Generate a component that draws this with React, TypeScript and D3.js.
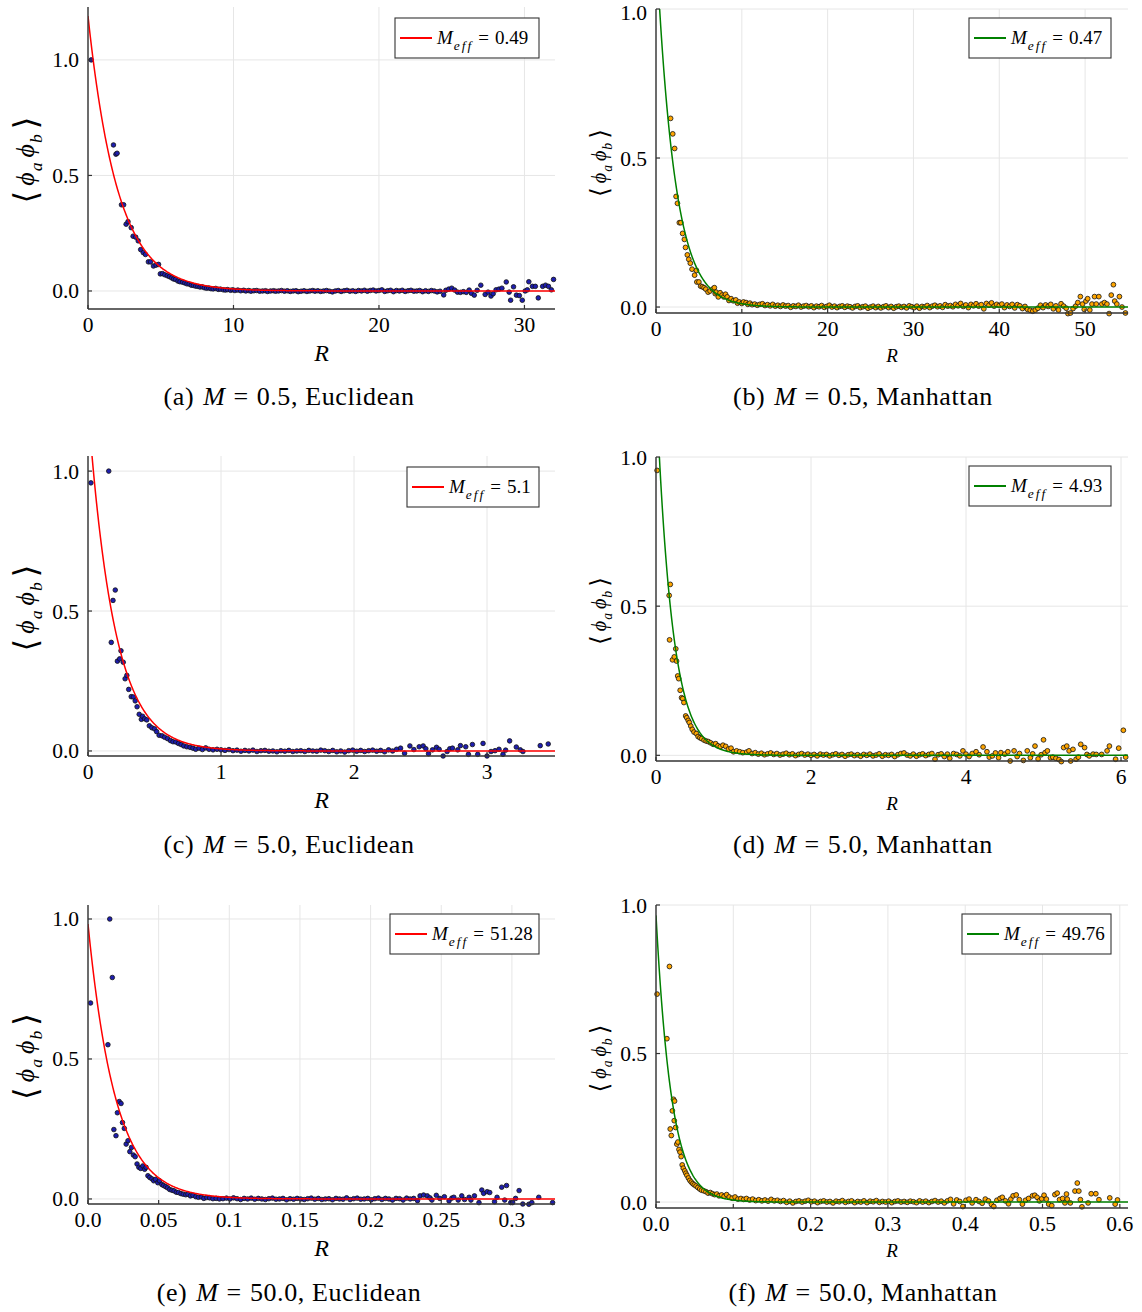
import React from "react";
import * as d3 from "d3";

type Pt = [number, number];

// ---- measured correlators <phi_a phi_b>(R) ----
const euclidM05: Pt[] = [
  [0.22, 1.0], [1.75, 0.632], [1.92, 0.592], [2.0, 0.596], [2.3, 0.373], [2.45, 0.373], [2.62, 0.289], [2.75, 0.3],
  [2.97, 0.274], [3.1, 0.237], [3.28, 0.233], [3.45, 0.217], [3.62, 0.179], [3.8, 0.166], [3.95, 0.158], [4.15, 0.126],
  [4.3, 0.126], [4.5, 0.108], [4.68, 0.112], [4.85, 0.115], [4.97, 0.074], [5.12, 0.075], [5.28, 0.07], [5.45, 0.066],
  [5.6, 0.062], [5.75, 0.057], [5.88, 0.052], [6.02, 0.05], [6.18, 0.043], [6.32, 0.04], [6.5, 0.038], [6.65, 0.035],
  [6.8, 0.031], [6.95, 0.03], [7.1, 0.025], [7.25, 0.024], [7.4, 0.021], [7.55, 0.02], [7.7, 0.017], [7.85, 0.018],
  [8.0, 0.014], [8.15, 0.012], [8.3, 0.013], [8.45, 0.01], [8.6, 0.009], [8.78, 0.011], [8.95, 0.007], [9.1, 0.008],
  [9.3, 0.005], [9.45, 0.004], [9.6, 0.006], [9.8, 0.003], [9.95, 0.005], [10.1, 0.002], [10.3, 0.004], [10.5, 0.001],
  [10.7, 0.003], [10.85, 0.0], [11.05, 0.002], [11.2, -0.001], [11.4, 0.001], [11.6, 0.002], [11.8, -0.001], [12.0, 0.0],
  [12.2, 0.001], [12.35, -0.002], [12.55, 0.0], [12.75, 0.001], [12.9, -0.001], [13.1, 0.0], [13.3, 0.002], [13.5, -0.001],
  [13.7, 0.001], [13.9, -0.002], [14.1, 0.0], [14.3, 0.001], [14.45, -0.003], [14.65, -0.001], [14.85, 0.001], [15.05, -0.002],
  [15.25, 0.0], [15.45, 0.002], [15.6, -0.001], [15.8, 0.001], [16.0, -0.002], [16.2, 0.0], [16.4, 0.002], [16.6, -0.001],
  [16.8, -0.004], [17.0, 0.0], [17.2, 0.002], [17.4, -0.002], [17.6, 0.001], [17.8, 0.003], [18.0, -0.001], [18.2, 0.001],
  [18.4, -0.002], [18.6, 0.002], [18.8, 0.0], [19.0, 0.003], [19.2, -0.001], [19.4, 0.002], [19.6, 0.004], [19.8, 0.0],
  [20.0, 0.002], [20.2, 0.005], [20.4, -0.002], [20.6, 0.001], [20.8, 0.003], [21.0, -0.003], [21.2, 0.002], [21.4, 0.0],
  [21.6, 0.003], [21.8, -0.002], [22.0, 0.001], [22.2, 0.003], [22.4, -0.001], [22.6, 0.0], [22.8, 0.002], [23.0, -0.003],
  [23.2, 0.001], [23.4, -0.002], [23.6, 0.002], [23.8, 0.0], [24.0, -0.004], [24.2, -0.001], [24.45, -0.017], [24.6, 0.003],
  [24.8, 0.008], [25.0, 0.012], [25.2, 0.004], [25.4, -0.005], [25.6, -0.006], [25.8, -0.003], [26.0, -0.006], [26.2, 0.004],
  [26.35, -0.01], [26.55, -0.018], [26.75, 0.003], [27.0, 0.025], [27.3, -0.015], [27.5, -0.005], [27.7, -0.022], [27.85, -0.012],
  [28.05, 0.005], [28.25, 0.008], [28.45, 0.012], [28.75, 0.039], [28.95, -0.005], [29.05, -0.04], [29.25, 0.018], [29.45, -0.018],
  [29.65, -0.02], [29.85, -0.04], [30.05, 0.0], [30.2, 0.005], [30.3, 0.04], [30.55, 0.02], [30.75, 0.02], [30.95, -0.03],
  [31.25, 0.02], [31.45, 0.025], [31.65, 0.02], [31.85, 0.005], [32.0, 0.05],
];

const manhM05: Pt[] = [
  [1.7, 0.633], [1.95, 0.581], [2.17, 0.532], [2.34, 0.371], [2.5, 0.348], [2.72, 0.283], [2.89, 0.283], [3.1, 0.247],
  [3.31, 0.227], [3.44, 0.2], [3.65, 0.175], [3.82, 0.16], [4.0, 0.147], [4.2, 0.127], [4.5, 0.107], [4.71, 0.123],
  [4.76, 0.084], [5.0, 0.084], [5.2, 0.07], [5.4, 0.068], [5.6, 0.065], [5.8, 0.06], [6.07, 0.05], [6.3, 0.054],
  [6.6, 0.06], [6.8, 0.065], [6.9, 0.045], [7.0, 0.05], [7.26, 0.034], [7.47, 0.048], [7.7, 0.04], [7.9, 0.034],
  [8.1, 0.043], [8.3, 0.034], [8.5, 0.022], [8.75, 0.028], [9.0, 0.021], [9.3, 0.024], [9.5, 0.013], [9.7, 0.017],
  [10.0, 0.012], [10.2, 0.017], [10.5, 0.015], [10.7, 0.009], [10.95, 0.013], [11.2, 0.008], [11.5, 0.01], [11.8, 0.006],
  [12.1, 0.009], [12.4, 0.011], [12.7, 0.005], [13.0, 0.008], [13.3, 0.004], [13.6, 0.009], [13.9, 0.003], [14.2, 0.006],
  [14.5, 0.002], [14.8, 0.007], [15.1, 0.003], [15.4, 0.005], [15.7, -0.001], [16.0, 0.004], [16.3, 0.002], [16.6, 0.006],
  [16.9, 0.0], [17.2, 0.003], [17.5, 0.005], [17.8, 0.001], [18.1, 0.004], [18.4, -0.002], [18.7, 0.003], [19.0, 0.001],
  [19.3, 0.005], [19.6, -0.001], [19.9, 0.002], [20.2, 0.006], [20.5, 0.0], [20.8, 0.003], [21.1, -0.002], [21.4, 0.002],
  [21.7, 0.004], [22.0, -0.001], [22.3, 0.003], [22.6, 0.001], [22.9, -0.003], [23.2, 0.002], [23.5, 0.004], [23.8, -0.002],
  [24.1, 0.001], [24.4, 0.003], [24.7, -0.004], [25.0, 0.0], [25.3, 0.003], [25.6, -0.002], [25.9, 0.002], [26.2, -0.003],
  [26.5, 0.001], [26.8, 0.004], [27.1, -0.002], [27.4, 0.002], [27.7, -0.004], [28.0, 0.001], [28.3, 0.003], [28.6, -0.001],
  [28.9, 0.002], [29.2, -0.003], [29.5, 0.004], [29.8, 0.001], [30.1, -0.002], [30.4, 0.003], [30.7, -0.004], [31.0, 0.002],
  [31.3, 0.0], [31.6, 0.005], [31.9, -0.002], [32.2, 0.003], [32.5, 0.006], [32.8, 0.001], [33.1, 0.004], [33.4, -0.001],
  [33.7, 0.008], [34.0, 0.003], [34.3, 0.005], [34.6, 0.001], [34.9, 0.009], [35.2, 0.004], [35.5, 0.012], [35.8, 0.002],
  [36.1, 0.007], [36.4, -0.002], [36.7, 0.009], [37.0, 0.004], [37.3, 0.011], [37.6, 0.003], [37.9, 0.008], [38.2, -0.006],
  [38.5, 0.012], [38.8, 0.006], [39.1, 0.014], [39.4, 0.003], [39.7, 0.009], [40.0, 0.005], [40.3, 0.01], [40.6, -0.002],
  [40.9, 0.007], [41.2, 0.002], [41.5, 0.009], [41.8, -0.003], [42.1, 0.008], [42.4, 0.004], [42.7, -0.005], [43.0, 0.002],
  [43.3, -0.008], [43.6, -0.011], [43.9, -0.014], [44.2, -0.01], [44.5, -0.004], [44.8, 0.006], [45.1, -0.002], [45.4, 0.007],
  [45.7, 0.002], [46.0, 0.009], [46.3, -0.006], [46.6, 0.004], [46.9, -0.01], [47.2, 0.011], [47.5, 0.003], [47.8, -0.004],
  [48.0, -0.022], [48.3, -0.02], [48.6, -0.005], [48.9, 0.003], [49.15, 0.015], [49.45, 0.035], [49.7, 0.01], [49.9, -0.008],
  [50.1, 0.02], [50.3, 0.028], [50.55, -0.01], [50.8, 0.01], [51.1, 0.035], [51.3, 0.01], [51.6, 0.035], [51.95, 0.01],
  [52.25, 0.015], [52.55, 0.01], [52.8, -0.022], [53.05, 0.04], [53.3, 0.075], [53.45, 0.02], [53.7, 0.01], [54.0, 0.035],
  [54.3, 0.0], [54.7, -0.02],
];

const euclidM5: Pt[] = [
  [0.022, 0.958], [0.156, 1.0], [0.175, 0.388], [0.188, 0.538], [0.205, 0.575], [0.221, 0.321], [0.238, 0.329], [0.248, 0.358],
  [0.265, 0.317], [0.279, 0.258], [0.292, 0.27], [0.306, 0.22], [0.325, 0.194], [0.341, 0.193], [0.355, 0.179], [0.369, 0.158],
  [0.385, 0.131], [0.401, 0.113], [0.41, 0.124], [0.426, 0.115], [0.442, 0.111], [0.461, 0.09], [0.48, 0.083], [0.5, 0.079],
  [0.516, 0.069], [0.535, 0.056], [0.557, 0.054], [0.576, 0.049], [0.598, 0.044], [0.62, 0.037], [0.639, 0.033], [0.66, 0.032],
  [0.68, 0.027], [0.7, 0.023], [0.72, 0.018], [0.743, 0.015], [0.767, 0.013], [0.789, 0.01], [0.81, 0.006], [0.835, 0.01],
  [0.86, 0.005], [0.885, 0.011], [0.91, 0.006], [0.94, 0.004], [0.97, 0.006], [1.0, 0.004], [1.03, 0.002], [1.06, 0.005],
  [1.09, 0.001], [1.12, 0.003], [1.15, -0.001], [1.18, 0.002], [1.21, 0.0], [1.24, 0.003], [1.27, -0.002], [1.3, 0.001],
  [1.33, 0.002], [1.36, -0.001], [1.39, 0.0], [1.42, -0.003], [1.45, 0.001], [1.48, -0.001], [1.51, 0.002], [1.54, -0.002],
  [1.57, 0.0], [1.6, 0.001], [1.63, -0.002], [1.66, 0.002], [1.69, 0.0], [1.72, -0.001], [1.75, 0.003], [1.78, 0.001],
  [1.81, -0.002], [1.84, 0.002], [1.87, -0.003], [1.9, 0.0], [1.93, -0.004], [1.96, 0.001], [1.99, 0.003], [2.02, -0.001],
  [2.05, 0.002], [2.08, -0.002], [2.11, 0.001], [2.14, 0.003], [2.17, -0.001], [2.2, 0.002], [2.23, -0.003], [2.26, 0.004],
  [2.29, 0.0], [2.32, 0.006], [2.35, 0.01], [2.38, -0.008], [2.42, 0.018], [2.45, 0.005], [2.49, 0.015], [2.52, 0.018],
  [2.54, 0.008], [2.56, -0.01], [2.59, 0.004], [2.62, 0.013], [2.64, 0.006], [2.67, -0.018], [2.7, -0.002], [2.72, 0.008],
  [2.74, 0.01], [2.78, 0.004], [2.8, 0.019], [2.84, 0.015], [2.86, -0.012], [2.89, 0.023], [2.93, -0.012], [2.97, 0.027],
  [3.0, -0.018], [3.03, -0.002], [3.06, 0.001], [3.09, 0.006], [3.12, -0.012], [3.14, 0.003], [3.17, 0.036], [3.22, 0.014],
  [3.25, 0.004], [3.27, -0.002], [3.4, 0.019], [3.46, 0.025],
];

const manhM5: Pt[] = [
  [0.014, 0.955], [0.17, 0.536], [0.184, 0.573], [0.175, 0.387], [0.213, 0.32], [0.236, 0.33], [0.255, 0.357], [0.265, 0.316],
  [0.28, 0.266], [0.293, 0.257], [0.312, 0.218], [0.33, 0.193], [0.345, 0.19], [0.36, 0.177], [0.383, 0.132], [0.397, 0.126],
  [0.416, 0.117], [0.43, 0.11], [0.449, 0.098], [0.468, 0.087], [0.49, 0.078], [0.52, 0.073], [0.543, 0.063], [0.567, 0.059],
  [0.59, 0.056], [0.62, 0.051], [0.647, 0.048], [0.675, 0.046], [0.704, 0.042], [0.737, 0.037], [0.77, 0.039], [0.8, 0.032],
  [0.83, 0.029], [0.864, 0.034], [0.9, 0.03], [0.935, 0.021], [0.968, 0.024], [1.0, 0.012], [1.04, 0.015], [1.08, 0.012],
  [1.12, 0.009], [1.17, 0.011], [1.2, 0.015], [1.24, 0.006], [1.28, 0.009], [1.32, 0.004], [1.36, 0.007], [1.4, 0.002],
  [1.44, 0.005], [1.48, 0.008], [1.52, 0.003], [1.56, 0.006], [1.6, 0.001], [1.64, 0.004], [1.68, 0.007], [1.72, 0.002],
  [1.76, 0.005], [1.8, -0.001], [1.84, 0.003], [1.88, 0.006], [1.92, 0.001], [1.96, 0.004], [2.0, 0.0], [2.04, 0.003],
  [2.08, -0.002], [2.12, 0.004], [2.16, 0.001], [2.2, 0.003], [2.24, -0.002], [2.28, 0.002], [2.32, 0.005], [2.36, 0.0],
  [2.4, 0.003], [2.44, -0.003], [2.48, 0.002], [2.52, 0.004], [2.56, -0.001], [2.6, 0.002], [2.64, -0.003], [2.68, 0.003],
  [2.72, 0.0], [2.76, 0.004], [2.8, -0.002], [2.84, 0.001], [2.88, 0.005], [2.92, -0.003], [2.96, 0.002], [3.0, 0.0],
  [3.04, 0.003], [3.08, -0.004], [3.12, 0.002], [3.16, 0.006], [3.2, 0.008], [3.24, 0.001], [3.28, -0.002], [3.32, 0.004],
  [3.36, -0.003], [3.4, 0.002], [3.44, 0.005], [3.48, -0.001], [3.52, 0.003], [3.56, 0.006], [3.6, -0.013], [3.64, 0.002],
  [3.68, 0.005], [3.72, -0.004], [3.76, 0.004], [3.79, -0.01], [3.84, 0.006], [3.88, 0.003], [3.92, -0.002], [3.96, 0.015],
  [4.0, 0.004], [4.04, -0.004], [4.08, 0.006], [4.13, 0.012], [4.17, 0.002], [4.22, 0.028], [4.27, 0.012], [4.3, -0.006],
  [4.34, -0.002], [4.38, 0.008], [4.42, -0.008], [4.45, 0.009], [4.5, 0.004], [4.54, 0.012], [4.57, -0.019], [4.62, 0.015],
  [4.66, -0.004], [4.69, 0.006], [4.74, -0.017], [4.79, 0.015], [4.83, -0.008], [4.86, 0.005], [4.89, 0.031], [4.93, -0.012],
  [4.97, 0.002], [5.0, 0.052], [5.02, 0.009], [5.05, 0.015], [5.09, -0.008], [5.12, -0.006], [5.16, -0.01], [5.2, -0.014],
  [5.23, -0.021], [5.26, 0.026], [5.3, 0.031], [5.33, 0.015], [5.35, -0.019], [5.38, 0.02], [5.42, -0.013], [5.45, -0.006],
  [5.48, 0.037], [5.53, 0.026], [5.56, 0.003], [5.59, -0.002], [5.64, 0.004], [5.68, 0.003], [5.75, 0.003], [5.82, 0.015],
  [5.85, 0.031], [5.93, -0.013], [5.97, 0.024], [6.03, 0.084], [6.06, -0.006],
];

const euclidM50: Pt[] = [
  [0.0018, 0.7], [0.0154, 1.0], [0.0141, 0.551], [0.0172, 0.791], [0.0183, 0.248], [0.0198, 0.226], [0.0208, 0.308], [0.0221, 0.348],
  [0.0234, 0.341], [0.0244, 0.273], [0.0257, 0.252], [0.027, 0.196], [0.0283, 0.208], [0.0296, 0.169], [0.0308, 0.184], [0.0321, 0.157],
  [0.0334, 0.151], [0.0347, 0.125], [0.036, 0.113], [0.0373, 0.109], [0.0388, 0.118], [0.0401, 0.106], [0.0411, 0.113], [0.0424, 0.083],
  [0.0437, 0.077], [0.0452, 0.072], [0.0465, 0.065], [0.0478, 0.07], [0.0494, 0.058], [0.0506, 0.065], [0.0522, 0.052], [0.0535, 0.048],
  [0.055, 0.044], [0.0563, 0.04], [0.0578, 0.034], [0.0594, 0.031], [0.0609, 0.029], [0.0625, 0.024], [0.064, 0.023], [0.0658, 0.019],
  [0.0674, 0.017], [0.0692, 0.015], [0.0707, 0.017], [0.0725, 0.011], [0.0743, 0.013], [0.0763, 0.008], [0.0781, 0.006], [0.0802, 0.007],
  [0.082, 0.002], [0.0841, 0.005], [0.0861, 0.004], [0.0884, 0.001], [0.0907, 0.002], [0.093, 0.0], [0.0955, 0.001], [0.098, 0.003],
  [0.1005, 0.0], [0.103, 0.004], [0.1055, 0.001], [0.108, -0.002], [0.1105, 0.002], [0.113, 0.0], [0.1155, 0.003], [0.118, -0.001],
  [0.1205, 0.002], [0.123, 0.0], [0.1255, -0.002], [0.128, 0.001], [0.1305, 0.003], [0.133, -0.001], [0.1355, 0.0], [0.138, 0.002],
  [0.1405, -0.003], [0.143, 0.001], [0.1455, -0.001], [0.148, 0.002], [0.1505, 0.0], [0.153, -0.002], [0.1555, 0.001], [0.158, 0.003],
  [0.1605, -0.001], [0.163, 0.002], [0.1655, -0.002], [0.168, 0.0], [0.1705, 0.001], [0.173, -0.003], [0.1755, 0.002], [0.178, 0.0],
  [0.1805, -0.001], [0.183, 0.004], [0.1855, -0.002], [0.188, 0.001], [0.1905, 0.003], [0.193, -0.001], [0.1955, 0.0], [0.198, 0.002],
  [0.2005, -0.003], [0.203, 0.001], [0.2055, 0.003], [0.208, -0.002], [0.2105, 0.002], [0.213, 0.0], [0.2155, -0.004], [0.218, 0.002],
  [0.2205, 0.001], [0.223, -0.004], [0.2255, 0.003], [0.228, 0.0], [0.2305, 0.002], [0.2332, -0.006], [0.235, 0.011], [0.2375, 0.014],
  [0.2401, 0.011], [0.242, 0.004], [0.2434, -0.004], [0.2465, 0.013], [0.249, 0.002], [0.2522, 0.008], [0.2555, -0.007], [0.2575, 0.003],
  [0.2589, 0.006], [0.262, -0.004], [0.2645, 0.011], [0.2665, -0.002], [0.2697, 0.006], [0.271, -0.004], [0.2735, 0.011], [0.2767, -0.013],
  [0.2787, 0.032], [0.28, 0.02], [0.2825, 0.026], [0.2843, 0.023], [0.2877, -0.01], [0.2895, 0.006], [0.2928, 0.042], [0.2949, -0.004],
  [0.2962, 0.048], [0.2992, -0.013], [0.3005, -0.013], [0.3026, 0.002], [0.3051, 0.03], [0.3077, -0.018], [0.312, -0.019], [0.3141, -0.013],
  [0.319, 0.006], [0.3288, -0.013],
];

const manhM50: Pt[] = [
  [0.0014, 0.7], [0.0141, 0.55], [0.0174, 0.793], [0.0184, 0.246], [0.0198, 0.224], [0.0212, 0.307], [0.0226, 0.346], [0.024, 0.34],
  [0.0236, 0.274], [0.0254, 0.251], [0.0269, 0.195], [0.0283, 0.202], [0.0297, 0.177], [0.0311, 0.168], [0.0325, 0.153], [0.0339, 0.125],
  [0.0353, 0.114], [0.0372, 0.105], [0.0386, 0.097], [0.04, 0.09], [0.0419, 0.081], [0.0438, 0.073], [0.0457, 0.067], [0.0476, 0.062],
  [0.0495, 0.058], [0.0518, 0.054], [0.0542, 0.049], [0.0566, 0.044], [0.0589, 0.04], [0.0617, 0.038], [0.0646, 0.035], [0.0674, 0.03],
  [0.0702, 0.032], [0.073, 0.028], [0.0759, 0.025], [0.0787, 0.027], [0.0815, 0.021], [0.0848, 0.024], [0.0881, 0.019], [0.0914, 0.025],
  [0.0947, 0.017], [0.0985, 0.013], [0.1023, 0.017], [0.106, 0.01], [0.1098, 0.012], [0.1135, 0.009], [0.117, 0.012], [0.121, 0.007],
  [0.125, 0.01], [0.129, 0.005], [0.133, 0.008], [0.137, 0.004], [0.141, 0.007], [0.145, 0.003], [0.149, 0.009], [0.153, 0.004],
  [0.157, 0.006], [0.161, 0.002], [0.165, 0.005], [0.169, -0.001], [0.173, 0.003], [0.177, -0.003], [0.181, 0.002], [0.185, 0.004],
  [0.189, 0.0], [0.193, 0.003], [0.197, 0.006], [0.201, 0.001], [0.205, 0.003], [0.209, -0.002], [0.213, 0.002], [0.217, 0.004],
  [0.221, 0.0], [0.225, 0.002], [0.229, -0.003], [0.233, 0.003], [0.237, 0.001], [0.241, 0.005], [0.245, -0.001], [0.249, 0.002],
  [0.253, 0.004], [0.257, -0.002], [0.261, 0.002], [0.265, 0.0], [0.269, 0.004], [0.273, -0.002], [0.277, 0.003], [0.281, 0.001],
  [0.285, 0.005], [0.289, -0.001], [0.293, 0.002], [0.297, 0.0], [0.301, 0.003], [0.305, -0.002], [0.309, 0.002], [0.313, 0.004],
  [0.317, 0.0], [0.321, 0.002], [0.325, -0.001], [0.329, 0.003], [0.333, 0.001], [0.337, -0.002], [0.341, 0.004], [0.345, 0.0],
  [0.349, 0.003], [0.353, -0.002], [0.357, 0.002], [0.361, 0.005], [0.365, 0.0], [0.369, 0.003], [0.373, -0.003], [0.377, 0.004],
  [0.381, 0.009], [0.385, -0.006], [0.389, 0.007], [0.393, 0.002], [0.397, -0.015], [0.401, 0.006], [0.405, 0.01], [0.409, -0.003],
  [0.414, 0.008], [0.418, 0.002], [0.422, -0.004], [0.426, 0.01], [0.43, 0.004], [0.434, -0.008], [0.437, -0.015], [0.441, 0.006],
  [0.445, 0.012], [0.448, 0.016], [0.452, 0.004], [0.456, -0.006], [0.459, 0.01], [0.462, 0.021], [0.466, 0.024], [0.47, 0.008],
  [0.474, -0.007], [0.478, 0.006], [0.482, 0.012], [0.487, 0.021], [0.49, 0.023], [0.493, 0.016], [0.496, 0.004], [0.499, 0.011],
  [0.502, 0.023], [0.505, 0.01], [0.508, -0.007], [0.512, -0.012], [0.516, 0.025], [0.519, 0.03], [0.522, 0.008], [0.526, 0.012],
  [0.529, -0.003], [0.531, 0.027], [0.532, 0.01], [0.536, -0.003], [0.542, 0.037], [0.545, 0.064], [0.547, 0.037], [0.549, 0.008],
  [0.551, -0.016], [0.559, -0.003], [0.563, 0.028], [0.569, 0.028], [0.573, 0.008], [0.587, 0.014], [0.594, -0.007], [0.597, 0.007],
];

// ---- exponential fits  A * exp(-M_eff * R) ----
const fitMass = [0.49, 0.47, 5.1, 4.93, 51.28, 49.76];
const fitMassLabels = ["0.49", "0.47", "5.1", "4.93", "51.28", "49.76"];
const fitAmplitude = [1.19, 1.22, 1.23, 1.24, 0.982, 0.965];

// ---- captions ----
const panelLetters = ["a", "b", "c", "d", "e", "f"];
const bareMassLabels = ["0.5", "0.5", "5.0", "5.0", "50.0", "50.0"];
const metricNames = ["Euclidean", "Manhattan", "Euclidean", "Manhattan", "Euclidean", "Manhattan"];

// ---- axis ticks ----
const xTickValues = [
  [0, 10, 20, 30],
  [0, 10, 20, 30, 40, 50],
  [0, 1, 2, 3],
  [0, 2, 4, 6],
  [0, 0.05, 0.1, 0.15, 0.2, 0.25, 0.3],
  [0, 0.1, 0.2, 0.3, 0.4, 0.5, 0.6],
];
const xTickLabels = [
  ["0", "10", "20", "30"],
  ["0", "10", "20", "30", "40", "50"],
  ["0", "1", "2", "3"],
  ["0", "2", "4", "6"],
  ["0.0", "0.05", "0.1", "0.15", "0.2", "0.25", "0.3"],
  ["0.0", "0.1", "0.2", "0.3", "0.4", "0.5", "0.6"],
];
const yTickValues = [0, 0.5, 1.0];
const yTickLabels = ["0.0", "0.5", "1.0"];

const seriesList = [euclidM05, manhM05, euclidM5, manhM5, euclidM50, manhM50];

// ---- layout (pixels) ----
const frames = [
  { left: 88, right: 555, top: 7, bottom: 309, xMax: 32.1, yMin: -0.078, yMax: 1.229, lx: 395, ly: 18, lw: 144, capX: 289, capY: 405 },
  { left: 656, right: 1128, top: 9, bottom: 313, xMax: 55.0, yMin: -0.02, yMax: 1.0, lx: 969, ly: 18, lw: 142, capX: 863, capY: 405 },
  { left: 88, right: 555, top: 456, bottom: 756, xMax: 3.511, yMin: -0.018, yMax: 1.054, lx: 407, ly: 467, lw: 132, capX: 289, capY: 853 },
  { left: 656, right: 1128, top: 457, bottom: 761, xMax: 6.09, yMin: -0.019, yMax: 1.0, lx: 969, ly: 466, lw: 142, capX: 863, capY: 853 },
  { left: 88, right: 555, top: 905, bottom: 1204, xMax: 0.3305, yMin: -0.018, yMax: 1.05, lx: 390, ly: 914, lw: 149, capX: 289, capY: 1301 },
  { left: 656, right: 1128, top: 905, bottom: 1208, xMax: 0.6106, yMin: -0.02, yMax: 1.0, lx: 962, ly: 914, lw: 149, capX: 863, capY: 1301 },
];

const SERIF = "'Liberation Serif', 'Times New Roman', 'DejaVu Serif', serif";
const AXIS = "#333333";
const GRID = "#e6e6e6";
const RED = "#ff0000";
const GREEN = "#008000";
const BLUE_FILL = "#1e1eae";
const ORANGE_FILL = "#ffa500";

function Panel({ i }: { i: number }) {
  const f = frames[i];
  const euclid = i % 2 === 0;
  const x = d3.scaleLinear().domain([0, f.xMax]).range([f.left, f.right]);
  const y = d3.scaleLinear().domain([f.yMin, f.yMax]).range([f.bottom, f.top]);
  const mass = fitMass[i];
  const amp = fitAmplitude[i];
  const lineColor = euclid ? RED : GREEN;
  const samples = d3.range(0, 601).map((k) => (f.xMax * k) / 600);
  const fitPath = d3
    .line<number>()
    .x((r) => x(r))
    .y((r) => y(amp * Math.exp(-mass * r)))(samples) as string;
  const clipId = `plot-clip-${i}`;
  const labelSize = euclid ? 24 : 19;
  const ylabSize = euclid ? 26 : 20;
  const tickSize = 21.5;
  const ylabBaseX = euclid ? 34 : 606;
  const ylabCenterY = (f.top + f.bottom) / 2 + 2;
  const sub = ylabSize * 0.68;
  const subDrop = ylabSize * 0.3;
  const gap = euclid ? 5 : 4;

  return (
    <g>
      <defs>
        <clipPath id={clipId}>
          <rect x={f.left} y={f.top} width={f.right - f.left} height={f.bottom - f.top} />
        </clipPath>
      </defs>
      {/* grid */}
      {xTickValues[i].map((t) => (
        <line key={`gx${t}`} x1={x(t)} x2={x(t)} y1={f.top} y2={f.bottom} stroke={GRID} strokeWidth={1} />
      ))}
      {yTickValues.map((t) => (
        <line key={`gy${t}`} x1={f.left} x2={f.right} y1={y(t)} y2={y(t)} stroke={GRID} strokeWidth={1} />
      ))}
      {/* data */}
      <g>
        {seriesList[i].map(([r, v], k) => (
          <circle
            key={k}
            cx={x(r)}
            cy={y(v)}
            r={euclid ? 2.3 : 2.4}
            fill={euclid ? BLUE_FILL : ORANGE_FILL}
            stroke="#111"
            strokeWidth={0.8}
          />
        ))}
      </g>
      {/* fit */}
      <path d={fitPath} fill="none" stroke={lineColor} strokeWidth={1.5} clipPath={`url(#${clipId})`} />
      {/* axes */}
      <line x1={f.left} x2={f.left} y1={f.top} y2={f.bottom} stroke={AXIS} strokeWidth={1.4} />
      <line x1={f.left} x2={f.right} y1={f.bottom} y2={f.bottom} stroke={AXIS} strokeWidth={1.4} />
      {xTickValues[i].map((t, k) => (
        <g key={`tx${t}`}>
          <line x1={x(t)} x2={x(t)} y1={f.bottom} y2={f.bottom - 4} stroke={AXIS} strokeWidth={1.2} />
          <text x={x(t)} y={f.bottom + 23} textAnchor="middle" fontSize={tickSize} fontFamily={SERIF} fill="#000">
            {xTickLabels[i][k]}
          </text>
        </g>
      ))}
      {yTickValues.map((t, k) => (
        <g key={`ty${t}`}>
          <line x1={f.left} x2={f.left + 4} y1={y(t)} y2={y(t)} stroke={AXIS} strokeWidth={1.2} />
          <text
            x={f.left - 9}
            y={Math.max(y(t) + 7.5, 20)}
            textAnchor="end"
            fontSize={tickSize}
            fontFamily={SERIF}
            fill="#000"
          >
            {yTickLabels[k]}
          </text>
        </g>
      ))}
      {/* axis titles */}
      <text
        x={(f.left + f.right) / 2}
        y={f.bottom + (euclid ? 52 : 49)}
        textAnchor="middle"
        fontSize={labelSize}
        fontStyle="italic"
        fontFamily={SERIF}
      >
        R
      </text>
      <text
        transform={`translate(${ylabBaseX},${ylabCenterY}) rotate(-90)`}
        textAnchor="middle"
        fontSize={ylabSize}
        fontFamily={SERIF}
      >
        <tspan fontSize={ylabSize * 1.25} dy={ylabSize * 0.12}>⟨</tspan>
        <tspan dx={gap} dy={-ylabSize * 0.12} fontStyle="italic">ϕ</tspan>
        <tspan fontSize={sub} fontStyle="italic" dy={subDrop} dx={1}>a</tspan>
        <tspan fontStyle="italic" dy={-subDrop} dx={gap}>ϕ</tspan>
        <tspan fontSize={sub} fontStyle="italic" dy={subDrop} dx={1}>b</tspan>
        <tspan fontSize={ylabSize * 1.25} dy={-subDrop + ylabSize * 0.12} dx={gap}>⟩</tspan>
      </text>
      {/* legend */}
      <rect x={f.lx} y={f.ly} width={f.lw} height={40} fill="#fff" stroke={AXIS} strokeWidth={1.1} />
      <line x1={f.lx + 5} x2={f.lx + 37} y1={f.ly + 20} y2={f.ly + 20} stroke={lineColor} strokeWidth={2} />
      <text x={f.lx + 42} y={f.ly + 26} fontSize={19} fontFamily={SERIF} fill="#000">
        <tspan fontStyle="italic">M</tspan>
        <tspan fontStyle="italic" fontSize={13.5} dy={6} dx={1} letterSpacing={2}>eff</tspan>
        <tspan dy={-6} dx={5}>=</tspan>
        <tspan dx={6}>{fitMassLabels[i]}</tspan>
      </text>
      {/* caption */}
      <text x={f.capX} y={f.capY} textAnchor="middle" fontSize={26} fontFamily={SERIF} fill="#000" letterSpacing={0.6}>
        <tspan>({panelLetters[i]})</tspan>
        <tspan dx={9} fontStyle="italic">M</tspan>
        <tspan dx={8}>=</tspan>
        <tspan dx={8}>{`${bareMassLabels[i]}, ${metricNames[i]}`}</tspan>
      </text>
    </g>
  );
}

export default function App() {
  return (
    <svg
      width={1142}
      height={1312}
      viewBox="0 0 1142 1312"
      style={{ position: "absolute", left: 0, top: 0, background: "#fff" }}
    >
      <rect x={0} y={0} width={1142} height={1312} fill="#fff" />
      {frames.map((_, i) => (
        <Panel key={i} i={i} />
      ))}
    </svg>
  );
}
